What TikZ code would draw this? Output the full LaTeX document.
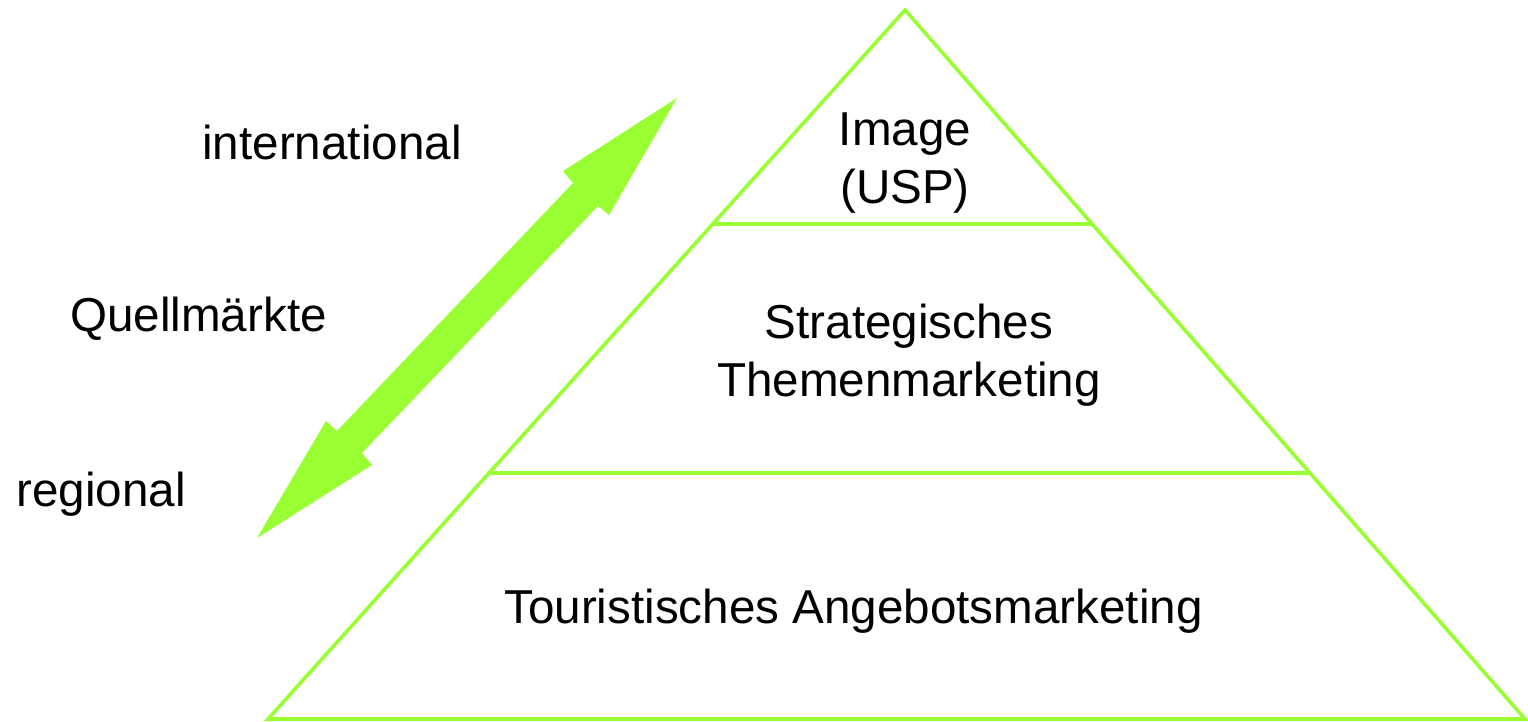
\documentclass[tikz,border=0pt]{standalone}
\usepackage{fontspec}
\setmainfont{Liberation Sans}
\usetikzlibrary{calc}
\definecolor{leafgreen}{RGB}{153,255,51}
\tikzset{
  px/.style = {x=0.5pt, y=-0.5pt},
  layer line/.style = {draw=leafgreen, line width=1.8pt, line join=miter},
  label text/.style = {font=\fontsize{23.8}{29}\selectfont, anchor=base, align=center, inner sep=0pt},
}

\begin{document}
\begin{tikzpicture}[px]
  \useasboundingbox (0,0) rectangle (1528,722);

  %% define coordinates
  \coordinate (apex) at (905,10);
  \coordinate (baseL) at (268,719);
  \coordinate (baseR) at (1525,719);
  \coordinate (topL) at ($(apex)!0.3018!(baseL)$);
  \coordinate (topR) at ($(apex)!0.3018!(baseR)$);
  \coordinate (midL) at ($(apex)!0.653!(baseL)$);
  \coordinate (midR) at ($(apex)!0.653!(baseR)$);

  % draw pyramid
  \draw[layer line] (apex) -- (baseR) -- (baseL) -- cycle;
  \draw[layer line] (topL) -- (topR);
  \draw[layer line] (midL) -- (midR);

  % draw double arrow
  \fill[leafgreen] (677,98) -- (609,215) -- (598,206) -- (362,453) -- (372,465)
    -- (257,538) -- (326,421) -- (337,431) -- (573,183) -- (563,171) -- cycle;

  % labels of the pyramid (base = last line)
  \node[label text] (image) at (905,204) {Image\\(USP)};
  \node[label text] (theme) at (909,396) {Strategisches\\Themenmarketing};
  \node[label text] (offer) at (853.5,623) {Touristisches Angebotsmarketing};

  % labels of the markets
  \node[label text] (intl) at (332,160) {international};
  \node[label text] (markets) at (198.5,331) {Quellmärkte};
  \node[label text] (regional) at (101,506) {regional};
\end{tikzpicture}
\end{document}
